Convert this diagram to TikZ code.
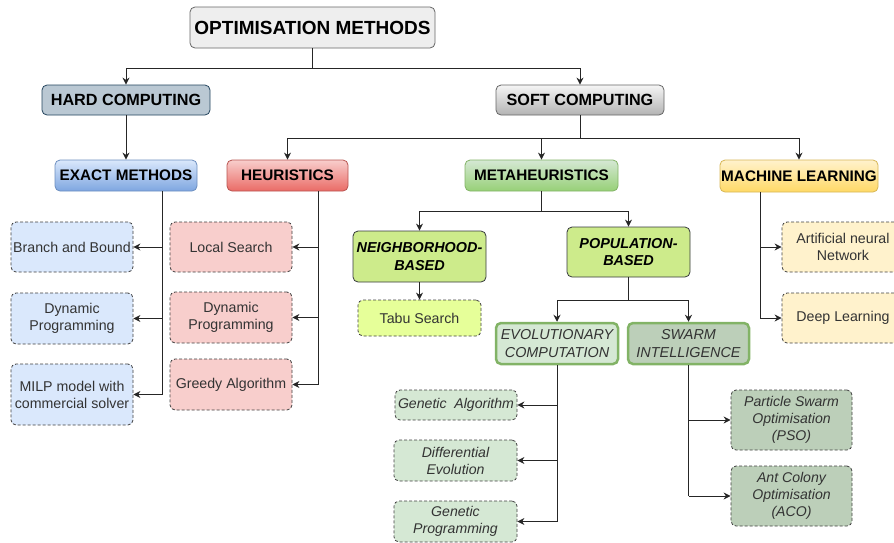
\documentclass[tikz,border=0pt]{standalone}
\usepackage{fontspec}
\setmainfont{Liberation Sans}
\usetikzlibrary{arrows.meta}
\definecolor{cOptF}{HTML}{EEEEEE}
\definecolor{cGrayB}{HTML}{666666}
\definecolor{cHardF}{HTML}{BAC8D3}
\definecolor{cHardB}{HTML}{23445D}
\definecolor{cSoftT}{HTML}{F5F5F5}
\definecolor{cSoftB}{HTML}{B3B3B3}
\definecolor{cBlueT}{HTML}{DAE8FC}
\definecolor{cBlueBot}{HTML}{7EA6E0}
\definecolor{cBlueB}{HTML}{6C8EBF}
\definecolor{cRedT}{HTML}{F8CECC}
\definecolor{cRedBot}{HTML}{EA6B66}
\definecolor{cRedB}{HTML}{B85450}
\definecolor{cGreenT}{HTML}{D5E8D4}
\definecolor{cGreenBot}{HTML}{97D077}
\definecolor{cGreenB}{HTML}{82B366}
\definecolor{cYelT}{HTML}{FFF2CC}
\definecolor{cYelBot}{HTML}{FFD966}
\definecolor{cYelB}{HTML}{D6B656}
\definecolor{cLime}{HTML}{CDEB8B}
\definecolor{cLimeL}{HTML}{E6FF99}
\definecolor{cDark}{HTML}{36393D}
\definecolor{cSwarm}{HTML}{BCCFB9}
\tikzset{
  base/.style={rounded corners=5pt, draw, align=center, inner sep=1pt},
  hdr/.style={base, font=\fontsize{15.3}{18}\selectfont\bfseries, line width=0.8pt},
  leaf/.style={base, dash pattern=on 3pt off 2pt, draw=black!75, line width=0.8pt, text=black!80, font=\fontsize{14.2}{17}\selectfont},
  ileaf/.style={leaf, font=\fontsize{14.1}{17}\selectfont\itshape},
  sub/.style={base, font=\fontsize{14.4}{17.5}\selectfont\bfseries\itshape, fill=cLime, draw=cDark, line width=0.8pt},
  grp/.style={base, font=\fontsize{14.4}{17.5}\selectfont\itshape, text=black!80, draw=cGreenB, line width=2.5pt},
  conn/.style={draw=black!85, line width=1pt},
  arr/.style={conn, -{Stealth[length=7pt,width=7pt]}},
}
\begin{document}
\begin{tikzpicture}[x=1pt,y=-1pt]
\useasboundingbox (0,0) rectangle (894,542);
% headers
\node[hdr, fill=cOptF, draw=cGrayB, font=\fontsize{19}{22}\selectfont\bfseries, minimum width=245pt, minimum height=41pt] (opt) at (312.5,27.5) {OPTIMISATION METHODS};
\node[hdr, fill=cHardF, draw=cHardB, font=\fontsize{16.2}{19}\selectfont\bfseries, minimum width=168pt, minimum height=30pt] (hard) at (126,100) {HARD COMPUTING};
\node[hdr, top color=cSoftT, bottom color=cSoftB, draw=cGrayB, font=\fontsize{16.2}{19}\selectfont\bfseries, minimum width=168pt, minimum height=30pt] (soft) at (580,100) {SOFT COMPUTING};
\node[hdr, top color=cBlueT, bottom color=cBlueBot, draw=cBlueB, minimum width=142pt, minimum height=31pt] (exact) at (126,175.5) {EXACT METHODS};
\node[hdr, top color=cRedT, bottom color=cRedBot, draw=cRedB, minimum width=121pt, minimum height=31pt] (heur) at (287.5,175.5) {HEURISTICS};
\node[hdr, top color=cGreenT, bottom color=cGreenBot, draw=cGreenB, minimum width=153pt, minimum height=31pt] (meta) at (541.5,175.5) {METAHEURISTICS};
\node[hdr, top color=cYelT, bottom color=cYelBot, draw=cYelB, minimum width=158pt, minimum height=32pt] (ml) at (799,176) {MACHINE LEARNING};
% exact leaves
\node[leaf, fill=cBlueT, minimum width=122pt, minimum height=50pt] (bb) at (72,247) {Branch and Bound};
\node[leaf, fill=cBlueT, minimum width=122pt, minimum height=51pt] (dp1) at (72,318.5) {Dynamic\\Programming};
\node[leaf, fill=cBlueT, minimum width=122pt, minimum height=61pt] (milp) at (72,394.5) {MILP model with\\commercial solver};
% heuristic leaves
\node[leaf, fill=cRedT, minimum width=122pt, minimum height=50pt] (ls) at (231,247) {Local Search};
\node[leaf, fill=cRedT, minimum width=122pt, minimum height=51pt] (dp2) at (231,317.5) {Dynamic\\Programming};
\node[leaf, fill=cRedT, minimum width=122pt, minimum height=51pt] (greedy) at (231,384.5) {Greedy Algorithm};
% metaheuristics
\node[sub, minimum width=133pt, minimum height=51pt] (nb) at (419.5,256.5) {NEIGHBORHOOD-\\BASED};
\node[sub, minimum width=123pt, minimum height=50pt] (pop) at (628.5,252) {POPULATION-\\BASED};
\node[leaf, fill=cLimeL, minimum width=123pt, minimum height=36pt] (tabu) at (419.5,318) {Tabu Search};
\node[grp, fill=cGreenT, minimum width=122pt, minimum height=41pt] (evo) at (557,343.5) {EVOLUTIONARY\\COMPUTATION};
\node[grp, fill=cSwarm, minimum width=121pt, minimum height=41pt] (swarm) at (688.5,343.5) {SWARM\\INTELLIGENCE};
\node[ileaf, fill=cGreenT, minimum width=122pt, minimum height=30pt] (ga) at (456,405) {Genetic\ \ Algorithm};
\node[ileaf, fill=cGreenT, minimum width=123pt, minimum height=41pt] (de) at (455.5,460.5) {Differential\\Evolution};
\node[ileaf, fill=cGreenT, minimum width=123pt, minimum height=41pt] (gp) at (455.5,521.5) {Genetic\\Programming};
\node[ileaf, fill=cSwarm, minimum width=121pt, minimum height=60pt] (pso) at (791.5,420) {Particle Swarm\\Optimisation\\(PSO)};
\node[ileaf, fill=cSwarm, minimum width=121pt, minimum height=60pt] (aco) at (791.5,496) {Ant Colony\\Optimisation\\(ACO)};
% ML leaves
\node[leaf, fill=cYelT, minimum width=122pt, minimum height=50pt] (ann) at (843,247) {Artificial neural\\Network};
\node[leaf, fill=cYelT, minimum width=122pt, minimum height=50pt] (dl) at (843,318) {Deep Learning};
% junction coordinates
\coordinate (j1) at (312.5,68);
\coordinate (j2) at (580,138);
\coordinate (j3) at (541.5,211);
\coordinate (j4) at (628.5,300);
\coordinate (exT) at (162,191);
\coordinate (heT) at (318,191);
\coordinate (mlT) at (760,192);
% connectors
\draw[conn] (opt.south) -- (j1);
\draw[arr] (j1) -| (hard.north);
\draw[arr] (j1) -| (soft.north);
\draw[arr] (hard.south) -- (exact.north);
\draw[conn] (soft.south) -- (j2);
\draw[arr] (j2) -| (heur.north);
\draw[arr] (j2) -| (meta.north);
\draw[arr] (j2) -| (ml.north);
\draw[conn] (exT) -- (exT |- milp.east);
\draw[arr] (exT |- bb.east) -- (bb.east);
\draw[arr] (exT |- dp1.east) -- (dp1.east);
\draw[arr] (exT |- milp.east) -- (milp.east);
\draw[conn] (heT) -- (heT |- greedy.east);
\draw[arr] (heT |- ls.east) -- (ls.east);
\draw[arr] (heT |- dp2.east) -- (dp2.east);
\draw[arr] (heT |- greedy.east) -- (greedy.east);
\draw[conn] (meta.south) -- (j3);
\draw[arr] (j3) -| (nb.north);
\draw[arr] (j3) -| (pop.north);
\draw[arr] (nb.south) -- (tabu.north);
\draw[conn] (pop.south) -- (j4);
\draw[arr] (j4) -| (evo.north);
\draw[arr] (j4) -| (swarm.north);
\draw[conn] (evo.south) -- (evo.south |- gp.east);
\draw[arr] (evo.south |- ga.east) -- (ga.east);
\draw[arr] (evo.south |- de.east) -- (de.east);
\draw[arr] (evo.south |- gp.east) -- (gp.east);
\draw[conn] (swarm.south) -- (swarm.south |- aco.west);
\draw[arr] (swarm.south |- pso.west) -- (pso.west);
\draw[arr] (swarm.south |- aco.west) -- (aco.west);
\draw[conn] (mlT) -- (mlT |- dl.west);
\draw[arr] (mlT |- ann.west) -- (ann.west);
\draw[arr] (mlT |- dl.west) -- (dl.west);
\end{tikzpicture}
\end{document}
